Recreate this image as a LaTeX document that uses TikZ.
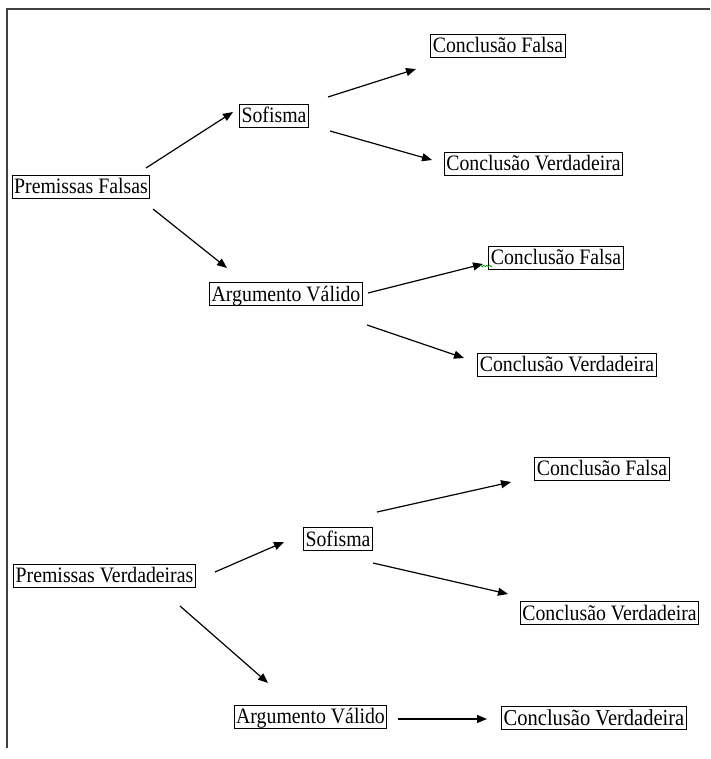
\documentclass[tikz,border=0pt]{standalone}
\usepackage{fontspec}
\setmainfont[FakeStretch=0.9]{Liberation Serif}
\usetikzlibrary{arrows.meta,decorations.pathmorphing}
\begin{document}
\begin{tikzpicture}[x=1pt,y=-1pt,
  box/.style={draw=black,line width=0.9pt,inner xsep=2pt,inner ysep=0pt,
    text height=18.5pt,text depth=4.5pt,font=\fontsize{22}{22}\selectfont},
  bigbox/.style={box,font=\fontsize{22.8}{22.8}\selectfont},
  arr/.style={line width=1.2pt,-{Triangle[length=10pt,width=8pt]}},
  frame/.style={draw=black!75,line width=2pt}]
\useasboundingbox (0,0) rectangle (710,759);
\draw[frame] (710,9) -- (6.5,9) -- (6.5,748);
% upper tree
\node[box] (pf)  at (81,186.5)   {Premissas Falsas};
\node[box] (s1)  at (274,116)    {Sofisma};
\node[box] (cf1) at (498,45.5)   {Conclusão Falsa};
\node[box] (cv1) at (533.5,163.5){Conclusão Verdadeira};
\node[box] (av1) at (286,294)    {Argumento Válido};
\node[box] (cf2) at (556,257.5)  {Conclusão Falsa};
\node[box] (cv2) at (567,364.5)  {Conclusão Verdadeira};
% lower tree
\node[box] (pv)  at (104.5,575.5){Premissas Verdadeiras};
\node[box] (s2)  at (338,539)    {Sofisma};
\node[box] (cf3) at (602,468.5)  {Conclusão Falsa};
\node[box] (cv3) at (609.5,613)  {Conclusão Verdadeira};
\node[box] (av2) at (310.5,716.5){Argumento Válido};
\node[bigbox] (cv4) at (594,718) {Conclusão Verdadeira};
% connectors
\draw[arr] ([shift={(65,-18.5)}]pf.center) -- ([shift={(-41,-4)}]s1.center);
\draw[arr] ([shift={(72,22.5)}]pf.center) -- ([shift={(-59,-26)}]av1.center);
\draw[arr] ([shift={(54,-19)}]s1.center) -- ([shift={(-82,23.5)}]cf1.center);
\draw[arr] ([shift={(56,15)}]s1.center) -- ([shift={(-101.5,-3.5)}]cv1.center);
\draw[arr] ([shift={(82,-1)}]av1.center) -- ([shift={(-73,6.5)}]cf2.center);
\draw[arr] ([shift={(81,31)}]av1.center) -- ([shift={(-103,-6.5)}]cv2.center);
\draw[arr] ([shift={(110.5,-3.5)}]pv.center) -- ([shift={(-54,3)}]s2.center);
\draw[arr] ([shift={(75.5,30.5)}]pv.center) -- ([shift={(-42.5,-33.5)}]av2.center);
\draw[arr] ([shift={(39,-27)}]s2.center) -- ([shift={(-91,13.5)}]cf3.center);
\draw[arr] ([shift={(35,24)}]s2.center) -- ([shift={(-101.5,-19)}]cv3.center);
\draw[arr] ([shift={(87.5,2.5)}]av2.center) -- ([shift={(-107,1)}]cv4.center);
% green squiggle
\draw[green!60!black,line width=0.6pt,decorate,decoration={zigzag,segment length=3pt,amplitude=1pt}]
  ([shift={(-76,8.5)}]cf2.center) -- ([shift={(-64,8.5)}]cf2.center);
\end{tikzpicture}
\end{document}
